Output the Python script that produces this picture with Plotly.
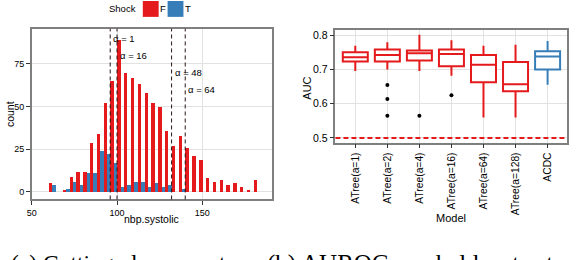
import plotly.graph_objects as go

W, H = 580, 260

# ---------------- data: histogram (left) ----------------
bin_centers = [58, 62, 66, 70, 74, 78, 82, 86, 90, 94, 98, 102, 106, 110, 114, 118,
               122, 126, 130, 134, 138, 142, 146, 150, 154, 158, 162, 166, 170, 174, 178, 182]
shock_F = [0, 5, 0, 1, 9, 12, 12, 29, 34, 52, 65, 89, 70, 67, 63, 58,
           52, 50, 36, 27, 33, 26, 21, 19, 8, 6, 7, 4, 5, 3, 1, 7]
shock_T = [0, 4, 0, 2, 6, 4, 11, 11, 24, 22, 17, 3, 4, 6, 6, 3,
           5, 3, 4, 0, 2, 0, 0, 0, 0, 0, 0, 0, 0, 0, 0, 0]
alpha_cuts = [96, 100, 132, 140]
alpha_labels = ["α = 1", "α = 16", "α = 48", "α = 64"]
alpha_label_y = [90, 80, 70, 60]

# ---------------- data: AUC boxplots (right) ----------------
models = ["ATree(a=1)", "ATree(a=2)", "ATree(a=4)", "ATree(a=16)",
          "ATree(a=64)", "ATree(a=128)", "ACDC"]
auc_upper = [0.770, 0.780, 0.802, 0.786, 0.770, 0.773, 0.784]
auc_q3 = [0.751, 0.759, 0.756, 0.759, 0.743, 0.722, 0.754]
auc_median = [0.736, 0.743, 0.748, 0.746, 0.714, 0.657, 0.738]
auc_q1 = [0.724, 0.724, 0.727, 0.710, 0.663, 0.637, 0.700]
auc_lower = [0.696, 0.700, 0.696, 0.682, 0.560, 0.560, 0.656]
outlier_model = ["ATree(a=2)", "ATree(a=2)", "ATree(a=2)", "ATree(a=4)", "ATree(a=16)"]
outlier_auc = [0.655, 0.614, 0.565, 0.565, 0.625]
chance_level = 0.5

RED = "#e41a1c"
BLUE = "#377eb8"
FONT = "Liberation Sans"
GRID = "#e2e2e2"
BORDER = "#7f7f7f"
BIN_W = 4


def px(x):
    return x / W


def py(y):
    return 1 - y / H


fig = go.Figure()

fig.add_trace(go.Bar(x=bin_centers, y=shock_F, name="F", marker=dict(color=RED, line=dict(width=0)),
                     width=BIN_W / 2, offset=-BIN_W / 2,
                     xaxis="x", yaxis="y", showlegend=False))
fig.add_trace(go.Bar(x=bin_centers, y=shock_T, name="T", marker=dict(color=BLUE, line=dict(width=0)),
                     width=BIN_W / 2, offset=0,
                     xaxis="x", yaxis="y", showlegend=False))

n_red = 6
fig.add_trace(go.Box(x=models[:n_red], q1=auc_q1[:n_red], median=auc_median[:n_red], q3=auc_q3[:n_red],
                     lowerfence=auc_lower[:n_red], upperfence=auc_upper[:n_red],
                     line=dict(color=RED, width=2), fillcolor="white", width=0.78,
                     whiskerwidth=0, boxpoints=False, xaxis="x2", yaxis="y2", showlegend=False))
fig.add_trace(go.Box(x=models[n_red:], q1=auc_q1[n_red:], median=auc_median[n_red:], q3=auc_q3[n_red:],
                     lowerfence=auc_lower[n_red:], upperfence=auc_upper[n_red:],
                     line=dict(color=BLUE, width=2), fillcolor="white", width=0.78,
                     whiskerwidth=0, boxpoints=False, xaxis="x2", yaxis="y2", showlegend=False))
fig.add_trace(go.Scatter(x=outlier_model, y=outlier_auc, mode="markers",
                         marker=dict(color="black", size=4), xaxis="x2", yaxis="y2", showlegend=False))

shapes = []
for c in alpha_cuts:
    shapes.append(dict(type="line", xref="x", yref="y domain", x0=c, x1=c, y0=0, y1=1,
                       line=dict(color="#2a1515", width=1, dash="4px,3px")))
shapes.append(dict(type="line", xref="x2 domain", yref="y2", x0=0, x1=1, y0=chance_level, y1=chance_level,
                   line=dict(color=RED, width=2, dash="5px,3px")))
# legend keys
shapes.append(dict(type="rect", xref="paper", yref="paper", x0=px(139), x1=px(155), y0=py(16), y1=py(0),
                   fillcolor=RED, line=dict(width=0)))
shapes.append(dict(type="rect", xref="paper", yref="paper", x0=px(164), x1=px(180), y0=py(16), y1=py(0),
                   fillcolor=BLUE, line=dict(width=0)))

ann = []
for c, t, yy in zip(alpha_cuts, alpha_labels, alpha_label_y):
    ann.append(dict(x=c, y=yy, xref="x", yref="y", text=t, showarrow=False, xanchor="left",
                    xshift=1, font=dict(family=FONT, size=9.5, color="black")))


def txt(x, y, t, size, angle=0, xanchor="center", family=FONT):
    ann.append(dict(x=px(x), y=py(y), xref="paper", yref="paper", text=t, showarrow=False,
                    xanchor=xanchor, yanchor="middle", textangle=angle,
                    font=dict(family=family, size=size, color="black")))


txt(119, 8, "Shock", 9.5)
txt(159.5, 8, "F", 9.5)
txt(185, 8, "T", 9.5)
txt(148, 220, "nbp.systolic", 10.5)
txt(5, 114, "count", 10.5, angle=-90)
txt(450, 218.5, "Model", 11)
txt(305, 88, "AUC", 11, angle=-90)

ann.append(dict(x=px(4), y=py(249), xref="paper", yref="paper", text="(a) Cutting planes w.r.t. α",
                showarrow=False, xanchor="left", yanchor="top",
                font=dict(family="Liberation Serif", size=23.5, color="black")))
ann.append(dict(x=px(262), y=py(249), xref="paper", yref="paper", text="(b) AUROCs on held-out sets",
                showarrow=False, xanchor="left", yanchor="top",
                font=dict(family="Liberation Serif", size=25, color="black")))

axis_common = dict(showline=True, linecolor=BORDER, linewidth=1.5, mirror=True,
                   gridcolor=GRID, gridwidth=1, zeroline=False, ticks="outside",
                   ticklen=4, tickcolor="#333333", tickwidth=1)

fig.update_layout(
    width=W, height=H, margin=dict(l=0, r=0, t=0, b=0),
    paper_bgcolor="white", plot_bgcolor="white",
    barmode="overlay", bargap=0, bargroupgap=0, boxmode="overlay",
    font=dict(family=FONT, color="black"),
    xaxis=dict(domain=[px(27), px(269)], range=[50, 190.7], tickvals=[50, 100, 150],
               tickfont=dict(size=9, color="black"), anchor="y", **axis_common),
    yaxis=dict(domain=[py(200), py(28)], range=[-4.5, 95.5], tickvals=[0, 25, 50, 75],
               tickfont=dict(size=9, color="black"), anchor="x", **axis_common),
    xaxis2=dict(domain=[px(333.3), px(566.7)], type="category", categoryorder="array",
                categoryarray=models, range=[-0.62, 6.6], tickangle=-90,
                tickfont=dict(size=10.3, color="black"), anchor="y2", **axis_common),
    yaxis2=dict(domain=[py(142.7), py(29.3)], range=[0.4864, 0.8157], tickvals=[0.5, 0.6, 0.7, 0.8],
                tickformat=".1f", tickfont=dict(size=10.5, color="black"), anchor="x2", **axis_common),
    shapes=shapes, annotations=ann,
)

fig.write_html("out.html", config={"displayModeBar": False},
               post_script="document.body.style.margin='0';document.body.style.overflow='hidden';")
